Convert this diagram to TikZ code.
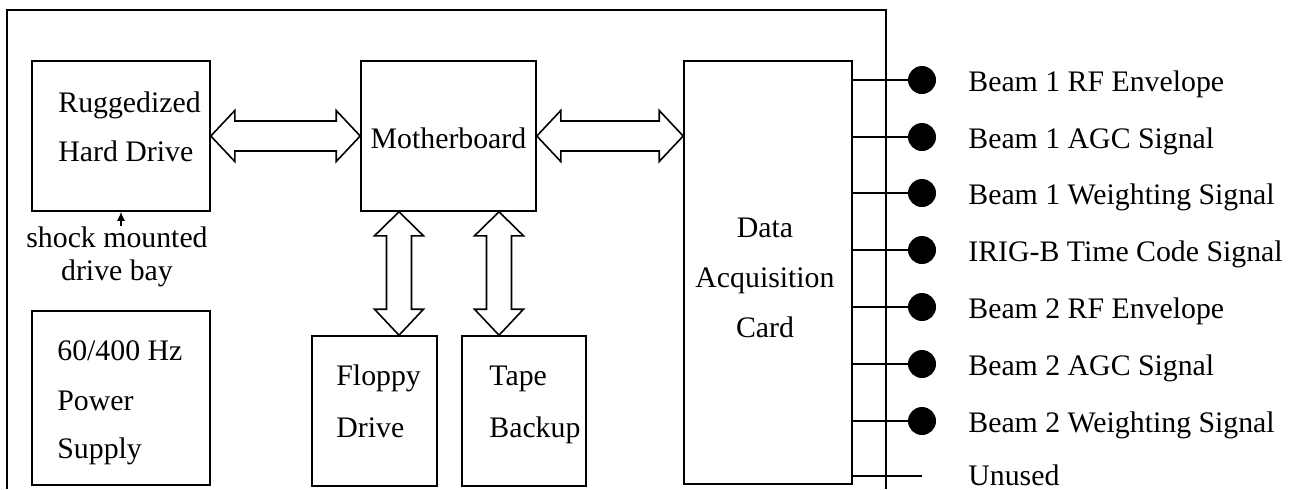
\documentclass[tikz,border=0pt]{standalone}
\usepackage{fontspec}
\setmainfont{Liberation Serif}
\usetikzlibrary{calc,arrows.meta}

% double-headed block arrow between two nodes, left to right, at the height of #1
\newcommand\busH[2]{%
  \draw[bus] let \p1=(#1.east), \p2=(#2.west) in
    (\x1,\y1) -- (\x1+12pt,\y1+12.75pt) -- (\x1+12pt,\y1+7.5pt)
    -- (\x2-12pt,\y1+7.5pt) -- (\x2-12pt,\y1+12.75pt) -- (\x2,\y1)
    -- (\x2-12pt,\y1-12.75pt) -- (\x2-12pt,\y1-7.5pt)
    -- (\x1+12pt,\y1-7.5pt) -- (\x1+12pt,\y1-12.75pt) -- cycle;}
% double-headed block arrow between two nodes, top to bottom, at abscissa #1
\newcommand\busV[3]{%
  \draw[bus] let \p1=(#2.south), \p2=(#3.north), \p3=(#1,0) in
    (\x3,\y1) -- (\x3+12.25pt,\y1-12pt) -- (\x3+6.25pt,\y1-12pt)
    -- (\x3+6.25pt,\y2+13pt) -- (\x3+12.25pt,\y2+13pt) -- (\x3,\y2)
    -- (\x3-12.25pt,\y2+13pt) -- (\x3-6.25pt,\y2+13pt)
    -- (\x3-6.25pt,\y1-12pt) -- (\x3-12.25pt,\y1-12pt) -- cycle;}

\begin{document}
\begin{tikzpicture}[x=0.5pt,y=-0.5pt,
  font=\fontsize{14.9pt}{18pt}\selectfont,
  unit/.style={draw, line width=0.8pt, inner sep=0pt},
  txt/.style={inner sep=0pt, anchor=base west},
  ctxt/.style={inner sep=0pt, anchor=base},
  bus/.style={draw, line width=0.8pt, fill=white},
  wire/.style={line width=0.7pt},
  jack/.style={circle, fill=black, inner sep=0pt, minimum size=14pt},
]
\useasboundingbox (0,0) rectangle (1298,489);

% chassis outline (open at the bottom)
\draw[line width=0.8pt] (7,489) -- (7,10) -- (886,10) -- (886,489);

% units inside the chassis
\node[unit, minimum width=89pt, minimum height=75pt] (hd) at (121,136) {};
\node[unit, minimum width=87.5pt, minimum height=75pt] (mb) at (448.5,136) {};
\node[unit, minimum width=84pt, minimum height=211.5pt] (daq) at (768,272.5) {};
\node[unit, minimum width=62.5pt, minimum height=75pt] (fd) at (374.5,411) {};
\node[unit, minimum width=62pt, minimum height=75pt] (tb) at (524,411) {};
\node[unit, minimum width=89pt, minimum height=87pt] (ps) at (121,398) {};

% unit labels
\node[txt] (hd1) at (58,112) {Ruggedized};
\node[txt] (hd2) at (58,161) {Hard Drive};
\node[ctxt] (mbl) at (mb.center |- 0,148) {Motherboard};
\node[ctxt] (daq1) at (765,237) {Data};
\node[ctxt] (daq2) at (765,287) {Acquisition};
\node[ctxt] (daq3) at (765,337) {Card};
\node[txt] (fd1) at (336,385) {Floppy};
\node[txt] (fd2) at (336,437) {Drive};
\node[txt] (tb1) at (489,385) {Tape};
\node[txt] (tb2) at (489,437) {Backup};
\node[txt] (ps1) at (57,360) {60/400 Hz};
\node[txt] (ps2) at (57,410) {Power};
\node[txt] (ps3) at (57,458) {Supply};

% drive bay note
\node[ctxt] (sm1) at (117,247) {shock mounted};
\node[ctxt] (sm2) at (117,280) {drive bay};
\draw[line width=0.6pt, -{Latex[length=4.5pt,width=4pt]}] (hd.south |- sm1.north) -- (hd.south);

% data paths
\busH{hd}{mb}
\busH{mb}{daq}
\busV{399}{mb}{fd}
\busV{499}{mb}{tb}

% signal inputs
\foreach \i/\y/\lab in {1/80/Beam 1 RF Envelope, 2/137/Beam 1 AGC Signal,
    3/193/Beam 1 Weighting Signal, 4/250/IRIG-B Time Code Signal,
    5/307/Beam 2 RF Envelope, 6/364/Beam 2 AGC Signal,
    7/421/Beam 2 Weighting Signal} {
  \node[jack] (j\i) at (922,\y) {};
  \draw[wire] (daq.east |- j\i) -- (j\i);
  \node[txt] (s\i) at (968,\y+11) {\lab};
}
\coordinate (j8) at (922,476);
\draw[wire] (daq.east |- j8) -- (j8);
\node[txt] (s8) at (968,485) {Unused};
\end{tikzpicture}
\end{document}
